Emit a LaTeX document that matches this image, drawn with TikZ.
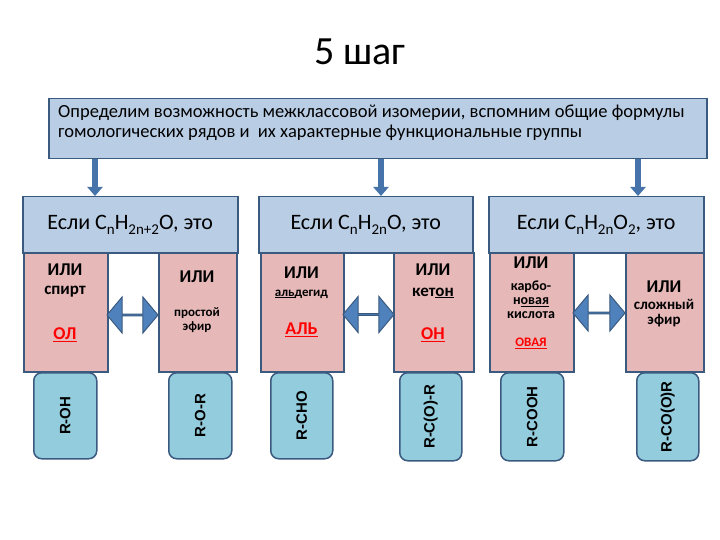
\documentclass[tikz,border=0pt]{standalone}
\usepackage{fontspec}
\usepackage{graphicx}
\setmainfont{Carlito}
\newfontfamily\arialf{Liberation Sans}
\usetikzlibrary{shapes.arrows,arrows.meta}
\definecolor{hblue}{HTML}{B9CDE5}
\definecolor{pinkf}{HTML}{E6B9B8}
\definecolor{boxblue}{HTML}{93CDDD}
\definecolor{bord}{HTML}{3A5A80}
\definecolor{ablue}{HTML}{4F81BD}
\definecolor{dblue}{HTML}{4673AA}
\newcommand\sbs[1]{\raisebox{-0.45ex}{\fontsize{15}{15}\selectfont #1}}
\newcommand\fsz[1]{\fontsize{#1}{#1}\selectfont}
\begin{document}
\begin{tikzpicture}[x=1pt,y=-1pt,
  rbox/.style={draw=bord, line width=1.5pt, inner sep=0pt, anchor=north west},
  hbox/.style={rbox, fill=hblue, minimum height=56pt},
  pbox/.style={rbox, fill=pinkf, minimum height=119pt},
  gbox/.style={rbox, fill=boxblue, rounded corners=8pt},
  glabel/.style={rotate=90, font=\arialf\bfseries\fsz{15}},
  darr/.style={double arrow, fill=ablue, draw=bord, line width=1pt, minimum width=36pt,
    double arrow head extend=11pt, double arrow tip angle=100, inner sep=0pt},
  downarr/.style={draw=dblue, line width=6pt, -{Triangle[width=15pt,length=9pt]}},
  pt/.style={font=\bfseries\fsz{14}, inner sep=0pt, align=center},
  ili/.style={font=\bfseries\fsz{18}, inner sep=0pt},
  redt/.style={font=\bfseries\fsz{18}, text=red, inner sep=0pt}]
\useasboundingbox (0,0) rectangle (720,540);
% title
\node[font=\fsz{40}] (title) at (360,52) {5 шаг};
% top box
\node[rbox, fill=hblue, minimum width=658pt, minimum height=60pt] (top) at (48,98) {};
\node[anchor=west, align=left, font=\fontsize{18.5}{20}\selectfont, inner sep=0pt] (toptext) at (58,123)
  {Определим возможность межклассовой изомерии, вспомним общие формулы\\гомологических рядов и\ \ их характерные функциональные группы};
% headers
\node[hbox, minimum width=215pt] (h1) at (22,196) {};
\node[hbox, minimum width=214pt] (h2) at (258,196) {};
\node[hbox, minimum width=215pt] (h3) at (488,196) {};
\node[font=\fsz{22}, inner sep=0pt] (t1) at (h1.center) {Если C\sbs{n}H\sbs{2n+2}O, это};
\node[font=\fsz{22}, inner sep=0pt] (t2) at (h2.center) {Если C\sbs{n}H\sbs{2n}O, это};
\node[font=\fsz{22}, inner sep=0pt] (t3) at (h3.center) {Если C\sbs{n}H\sbs{2n}O\sbs{2}, это};
% down arrows
\coordinate (d1) at (95,0);
\coordinate (d2) at (381,0);
\coordinate (d3) at (638,0);
\draw[downarr] (top.south -| d1) -- (h1.north -| d1);
\draw[downarr] (top.south -| d2) -- (h2.north -| d2);
\draw[downarr] (top.south -| d3) -- (h3.north -| d3);
% pink boxes
\node[pbox, minimum width=84pt] (p1a) at (23,252) {};
\node[pbox, minimum width=78pt] (p1b) at (158,252) {};
\node[pbox, minimum width=83pt] (p2a) at (260,252) {};
\node[pbox, minimum width=80pt] (p2b) at (393,252) {};
\node[pbox, minimum width=84pt] (p3a) at (489,252) {};
\node[pbox, minimum width=78pt] (p3b) at (625,252) {};
% pink texts
\node[ili] (i1a) at (65,270) {ИЛИ};
\node[pt, font=\bfseries\fsz{17}] (s1a) at (65,292) {спирт};
\node[redt] (r1a) at (65,335) {\underline{ОЛ}};
\node[ili] (i1b) at (197,277) {ИЛИ};
\node[pt, font=\bfseries\fsz{13}] (s1b) at (197,320) {простой\\[1pt]эфир};
\node[ili] (i2a) at (301.5,273) {ИЛИ};
\node[pt, font=\bfseries\fsz{13}] (s2a) at (301.5,294) {\underline{аль}дегид};
\node[redt] (r2a) at (301.5,330) {\underline{АЛЬ}};
\node[ili] (i2b) at (433,270) {ИЛИ};
\node[pt, font=\bfseries\fsz{17}] (s2b) at (433,293) {кет\underline{он}};
\node[redt] (r2b) at (433,335) {\underline{ОН}};
\node[ili] (i3a) at (531,263) {ИЛИ};
\node[pt] (s3a) at (531,300) {карбо-\\[0pt]н\underline{овая}\\[0pt]кислота};
\node[redt, font=\bfseries\fsz{13}] (r3a) at (531,343) {\underline{ОВАЯ}};
\node[ili] (i3b) at (664,287) {ИЛИ};
\node[pt, font=\bfseries\fsz{15}] (s3b) at (664,313) {сложный\\[0pt]эфир};
% double arrows
\node[darr, minimum height=51pt] (a1) at (132.5,315) {};
\node[darr, minimum height=51pt] (a2) at (368.5,314.5) {};
\node[darr, minimum height=52pt] (a3) at (599,313) {};
% formula boxes
\node[gbox, minimum width=63pt, minimum height=86pt] (b1) at (33,372) {};
\node[gbox, minimum width=63pt, minimum height=86pt] (b2) at (168,372) {};
\node[gbox, minimum width=62pt, minimum height=86pt] (b3) at (270,372) {};
\node[gbox, minimum width=62pt, minimum height=88pt] (b4) at (399,372) {};
\node[gbox, minimum width=63pt, minimum height=88pt] (b5) at (500,372) {};
\node[gbox, minimum width=62pt, minimum height=88pt] (b6) at (636,372) {};
\node[glabel] (g1) at (b1.center) {R-OH};
\node[glabel] (g2) at (b2.center) {R-O-R};
\node[glabel] (g3) at (b3.center) {R-CHO};
\node[glabel] (g4) at (b4.center) {R-C(O)-R};
\node[glabel] (g5) at (b5.center) {R-COOH};
\node[glabel] (g6) at (b6.center) {R-CO(O)R};
\end{tikzpicture}
\end{document}
